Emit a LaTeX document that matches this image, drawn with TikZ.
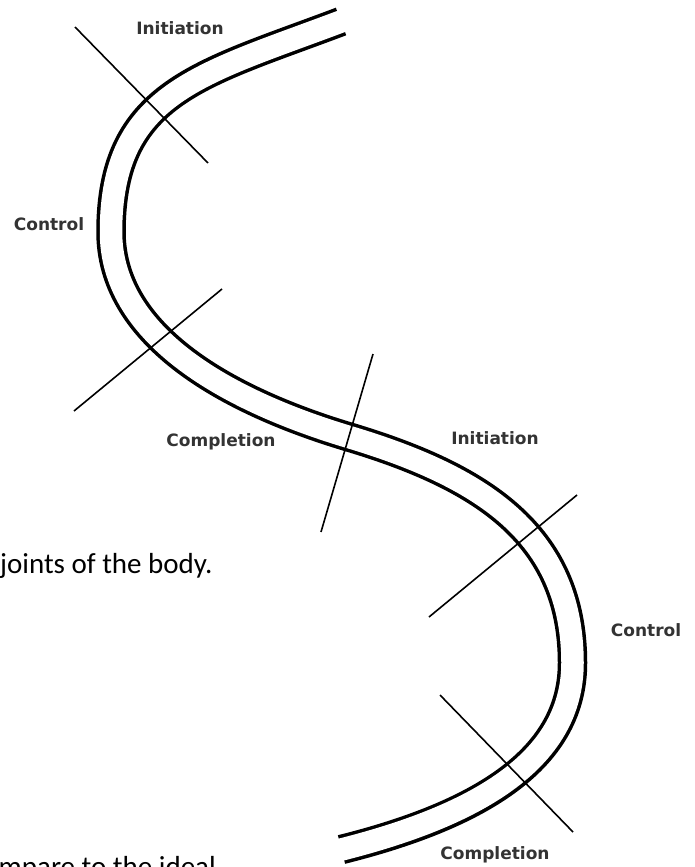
\documentclass[tikz,border=0pt]{standalone}
\usepackage{fontspec}
\setmainfont{Carlito}
\newfontfamily\labelfont{DejaVu Sans}
\definecolor{labelgray}{HTML}{333333}
\begin{document}
\begin{tikzpicture}[x=1pt,y=-1pt,
  lbl/.style={font=\labelfont\bfseries\fontsize{17}{19}\selectfont, text=labelgray, inner sep=0pt},
  bodytext/.style={font=\fontsize{29}{32}\selectfont, text=black, inner sep=0pt},
  track/.style={line width=29.5pt, draw=black,
    postaction={draw=white, line width=22.5pt, shorten <=-3pt, shorten >=-3pt}},
  crossline/.style={line width=1.6pt, draw=black}]
\fill[white] (0,0) rectangle (695,867);
\useasboundingbox (0,0) rectangle (695,867);

% double S-shaped track (outer black band, inner white band)
\coordinate (ttop) at (341,21.5);
\coordinate (tleft) at (111,232);
\coordinate (tmid) at (349,437);
\coordinate (tright) at (572.5,663);
\coordinate (tbot) at (341.5,849.5);
\draw[track] (ttop) .. controls (201,74.5) and (111,92) .. (tleft)
  .. controls (111,332) and (219,398) .. (tmid)
  .. controls (479,476) and (572.5,533) .. (tright)
  .. controls (572.5,763) and (471.5,817) .. (tbot);

% cross lines
\coordinate (l1a) at (75,27);   \coordinate (l1b) at (208,163);
\coordinate (l2a) at (222,289); \coordinate (l2b) at (74,411);
\coordinate (l3a) at (373,354); \coordinate (l3b) at (321,532);
\coordinate (l4a) at (577,495); \coordinate (l4b) at (429,617);
\coordinate (l5a) at (440,695); \coordinate (l5b) at (573,832);
\draw[crossline] (l1a) -- (l1b);
\draw[crossline] (l2a) -- (l2b);
\draw[crossline] (l3a) -- (l3b);
\draw[crossline] (l4a) -- (l4b);
\draw[crossline] (l5a) -- (l5b);

% labels
\node[lbl] (init1) at (180,28) {Initiation};
\node[lbl] (ctrl1) at (49,224) {Control};
\node[lbl] (comp1) at (221,442) {Completion};
\node[lbl] (init2) at (495,438) {Initiation};
\node[lbl] (ctrl2) at (646,630) {Control};
\node[lbl] (comp2) at (495,855) {Completion};

% surrounding body text fragments
\node[bodytext, anchor=base west] (txt1) at (0,573) {joints of the body.};
\node[bodytext, anchor=base east] (txt2) at (216,876) {compare to the ideal};
\end{tikzpicture}
\end{document}
